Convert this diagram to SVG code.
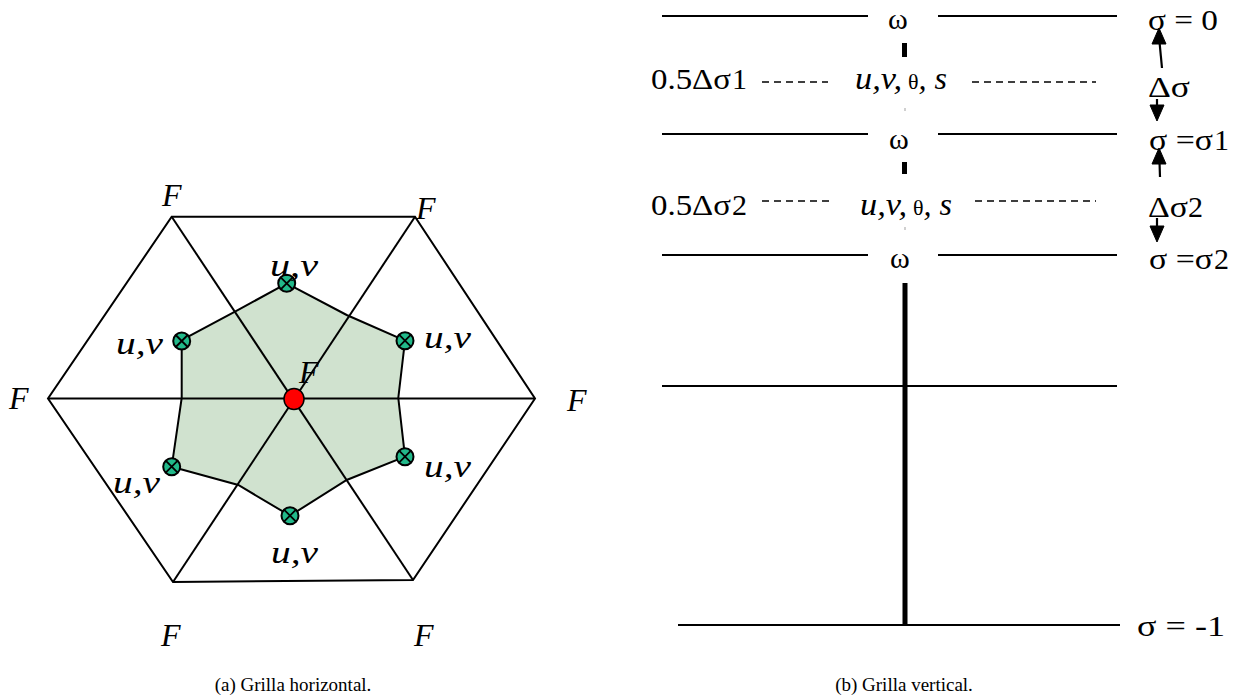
<svg xmlns="http://www.w3.org/2000/svg" width="1238" height="700" viewBox="0 0 1238 700">
<style>
.ln{stroke:#000;stroke-width:2;fill:none}
.dash{stroke:#000;stroke-width:1.5;stroke-dasharray:7,5;fill:none}
.it{font-family:"Liberation Serif","Times New Roman",serif;font-style:italic;font-size:32px;fill:#000}
.rm{font-family:"Liberation Serif","Times New Roman",serif;font-size:30px;fill:#000}
.cap{font-family:"Liberation Serif","Times New Roman",serif;font-size:19px;fill:#000}
.node circle{fill:#22b98a;stroke:#000;stroke-width:2}
.node path{stroke:#000;stroke-width:1.8}
.faint{stroke:#d0d0d0;stroke-width:2}
.shaft{stroke:#000;stroke-width:2.2}
.head{fill:#000;stroke:#000;stroke-width:1}
</style>

<!-- (a) horizontal grid -->
<g id="green-cell">
<path d="M286.7,283.3 L346.7,315 L405,340.7 L398.3,398 L405,456.7 L346.7,480 L290,515.7 L238.3,485 L171.7,466.7 L181.7,398 L181.7,340 L235,311.7 Z" fill="#d0e2cf" stroke="#000" stroke-width="2"/>
</g>
<g id="hexagon">
<polygon class="ln" points="171.7,216.7 415,216.7 535,398.5 413,580 173,582 48,398.5"/>
<line class="ln" x1="171.7" y1="216.7" x2="413" y2="580"/>
<line class="ln" x1="415" y1="216.7" x2="173" y2="582"/>
<line class="ln" x1="48" y1="398.5" x2="535" y2="398.5"/>
</g>
<g id="uv-nodes">
<g class="node" id="uv-top"><circle cx="286.7" cy="283.3" r="8.5"/><path d="M280.7,277.3 L292.7,289.3 M292.7,277.3 L280.7,289.3"/></g>
<g class="node" id="uv-ur"><circle cx="405" cy="340.7" r="8.5"/><path d="M399,334.7 L411,346.7 M411,334.7 L399,346.7"/></g>
<g class="node" id="uv-lr"><circle cx="405" cy="456.7" r="8.5"/><path d="M399,450.7 L411,462.7 M411,450.7 L399,462.7"/></g>
<g class="node" id="uv-bot"><circle cx="290" cy="515.7" r="8.5"/><path d="M284,509.7 L296,521.7 M296,509.7 L284,521.7"/></g>
<g class="node" id="uv-ll"><circle cx="171.7" cy="466.7" r="8.5"/><path d="M165.7,460.7 L177.7,472.7 M177.7,460.7 L165.7,472.7"/></g>
<g class="node" id="uv-ul"><circle cx="181.7" cy="341" r="8.5"/><path d="M175.7,335 L187.7,347 M187.7,335 L175.7,347"/></g>
</g>
<g id="center-node">
<ellipse cx="294" cy="399" rx="10" ry="10.5" fill="#ff0000" stroke="#000" stroke-width="1.5"/>
</g>
<g id="labels-a">
<text class="it" x="162" y="206">F</text>
<text class="it" x="416" y="219">F</text>
<text class="it" x="9" y="409">F</text>
<text class="it" x="567" y="411">F</text>
<text class="it" x="161" y="646">F</text>
<text class="it" x="414" y="646">F</text>
<text class="it" x="299" y="383">F</text>
<text class="it" x="270" y="276" textLength="48" lengthAdjust="spacingAndGlyphs">u,v</text>
<text class="it" x="424" y="348" textLength="47" lengthAdjust="spacingAndGlyphs">u,v</text>
<text class="it" x="116" y="354" textLength="47" lengthAdjust="spacingAndGlyphs">u,v</text>
<text class="it" x="424" y="477" textLength="47" lengthAdjust="spacingAndGlyphs">u,v</text>
<text class="it" x="113" y="493" textLength="47" lengthAdjust="spacingAndGlyphs">u,v</text>
<text class="it" x="271" y="563" textLength="47" lengthAdjust="spacingAndGlyphs">u,v</text>
</g>

<!-- (b) vertical grid -->
<g id="levels">
<line class="ln" x1="662" y1="16" x2="868" y2="16"/>
<line class="ln" x1="938" y1="16" x2="1117" y2="16"/>
<line class="ln" x1="662" y1="134" x2="868" y2="134"/>
<line class="ln" x1="938" y1="134" x2="1117" y2="134"/>
<line class="ln" x1="662" y1="255" x2="868" y2="255"/>
<line class="ln" x1="938" y1="255" x2="1117" y2="255"/>
<line class="ln" x1="662" y1="386" x2="1117" y2="386"/>
<line class="ln" x1="678" y1="625" x2="1120" y2="625"/>
<line class="dash" x1="762" y1="82" x2="828" y2="82"/>
<line class="dash" x1="972" y1="82" x2="1096" y2="82"/>
<line class="dash" x1="762" y1="201" x2="832" y2="201"/>
<line class="dash" x1="975" y1="201" x2="1096" y2="201"/>
</g>
<g id="column">
<rect x="902" y="43" width="5" height="14" fill="#000"/>
<rect x="902" y="162" width="5" height="12" fill="#000"/>
<line x1="905" y1="283" x2="905" y2="625" stroke="#000" stroke-width="5"/>
<line class="faint" x1="905" y1="108" x2="905" y2="111"/>
<line class="faint" x1="905" y1="227" x2="905" y2="230"/>
</g>
<g id="connectors">
<line class="shaft" x1="1162" y1="68" x2="1159.5" y2="42"/>
<polygon class="head" points="1159,28 1166,44 1152,44"/>
<line class="shaft" x1="1157" y1="99" x2="1157" y2="106"/>
<polygon class="head" points="1157,121 1164,105 1150,105"/>
<line class="shaft" x1="1160" y1="177" x2="1159.5" y2="162"/>
<polygon class="head" points="1159,148 1166,164 1152,164"/>
<line class="shaft" x1="1157" y1="218" x2="1157" y2="227"/>
<polygon class="head" points="1157,242 1164,226 1150,226"/>
</g>
<g id="labels-b">
<text class="rm" x="888" y="29" font-size="28">ω</text>
<text class="rm" x="889" y="149" font-size="28">ω</text>
<text class="rm" x="890" y="268" font-size="28">ω</text>
<text class="rm" x="1148" y="30" textLength="70" lengthAdjust="spacingAndGlyphs">σ = 0</text>
<text class="rm" x="1149" y="150" textLength="64" lengthAdjust="spacingAndGlyphs">σ =σ</text>
<text class="rm" x="1214" y="150" font-size="21">1</text>
<text class="rm" x="1149" y="269" textLength="64" lengthAdjust="spacingAndGlyphs">σ =σ</text>
<text class="rm" x="1214" y="269" font-size="21">2</text>
<text class="rm" x="1137" y="636" textLength="88" lengthAdjust="spacingAndGlyphs">σ = -1</text>
<text class="rm" x="1148" y="97" textLength="42" lengthAdjust="spacingAndGlyphs">Δσ</text>
<text class="rm" x="1148" y="217" textLength="40" lengthAdjust="spacingAndGlyphs">Δσ</text>
<text class="rm" x="1188" y="217" font-size="21">2</text>
<text class="rm" x="651" y="89" textLength="80" lengthAdjust="spacingAndGlyphs">0.5Δσ</text>
<text class="rm" x="732" y="89" font-size="21">1</text>
<text class="rm" x="651" y="215" textLength="80" lengthAdjust="spacingAndGlyphs">0.5Δσ</text>
<text class="rm" x="732" y="215" font-size="21">2</text>
<text class="it" x="855" y="89" font-size="29"><tspan textLength="47" lengthAdjust="spacingAndGlyphs">u,v,</tspan><tspan font-style="normal" font-size="22" dx="6">θ</tspan><tspan>, s</tspan></text>
<text class="it" x="860" y="215" font-size="29"><tspan textLength="47" lengthAdjust="spacingAndGlyphs">u,v,</tspan><tspan font-style="normal" font-size="22" dx="6">θ</tspan><tspan>, s</tspan></text>
</g>

<g id="captions">
<text class="cap" x="293" y="691" text-anchor="middle">(a) Grilla horizontal.</text>
<text class="cap" x="904" y="691" text-anchor="middle">(b) Grilla vertical.</text>
</g>
</svg>
